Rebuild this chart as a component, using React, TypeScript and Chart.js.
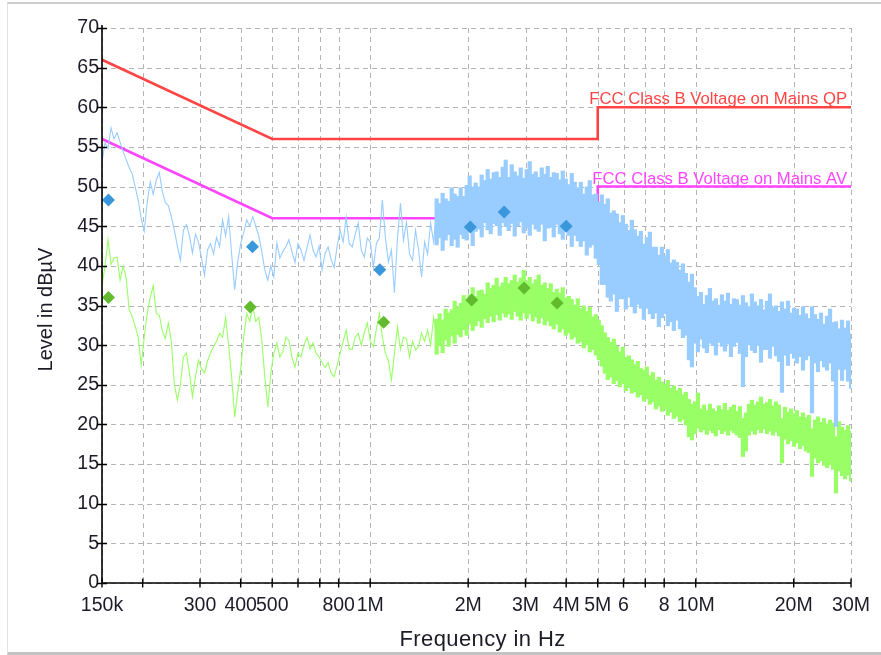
import { useEffect, useRef } from 'react';
import { Chart, registerables } from 'chart.js';

Chart.register(...registerables);

// ---- Sweep definitions (frequencies in MHz) ----
const SWEEP_LOW = { start: 0.15, stop: 1.6, points: 112 };
const SWEEP_HIGH = { start: 1.6, stop: 30, points: 139 };

// Peak detector trace, 150 kHz – 1.6 MHz (dBµV)
const peakLow = [
  53.1, 55.5, 54.8, 57.4, 56.0, 56.8, 55.6, 54.4, 53.4, 52.4,
  51.6, 50.0, 48.3, 46.0, 44.4, 48.0, 50.6, 49.0, 50.8, 51.8,
  49.4, 48.0, 47.6, 46.2, 44.5, 42.5, 40.7, 44.5, 45.2, 43.8,
  41.6, 44.0, 43.0, 41.0, 38.8, 42.0, 42.8, 41.5, 43.6, 42.4,
  45.8, 43.8, 46.2, 41.5, 37.0, 40.5, 42.8, 44.2, 45.8, 45.0,
  46.2, 45.0, 43.8, 41.8, 39.5, 38.2, 40.0, 38.6, 42.9, 41.0,
  41.8, 42.4, 43.3, 41.8, 40.4, 42.8, 42.0, 40.7, 42.3, 43.9,
  42.0, 41.1, 42.5, 39.5, 41.6, 42.4, 40.8, 39.8, 42.5, 44.5,
  43.0, 46.2, 42.8, 42.4, 44.0, 45.4, 42.0, 41.1, 43.5, 43.0,
  39.8, 42.8, 43.5, 48.3, 43.5, 40.5, 42.0, 36.6, 43.5, 47.9,
  43.2, 45.5, 41.5, 40.7, 44.5, 42.0, 38.6, 43.0, 41.5, 45.4,
  43.0, 47.0,
];

// Average detector trace, 150 kHz – 1.6 MHz (dBµV)
const avgLow = [
  37.5, 40.0, 43.3, 40.2, 41.0, 41.1, 38.2, 40.0, 38.5, 34.5,
  33.6, 32.4, 31.0, 27.5, 31.0, 34.0, 36.0, 37.5, 34.0, 33.8,
  31.8, 30.8, 32.8, 30.5, 25.0, 23.1, 25.0, 28.5, 29.0, 26.5,
  23.5, 26.0, 28.1, 27.0, 26.5, 28.0, 29.0, 29.8, 30.5, 31.5,
  31.0, 33.5, 30.0, 26.0, 20.9, 24.0, 27.0, 31.0, 34.0, 33.0,
  34.8, 33.0, 33.5, 30.6, 26.0, 22.2, 26.5, 29.0, 30.3, 28.5,
  29.2, 31.0, 30.6, 28.5, 27.2, 29.0, 28.5, 30.0, 31.0, 29.5,
  30.3, 29.0, 28.5, 27.8, 27.2, 27.8, 26.5, 26.0, 27.5, 29.0,
  30.5, 31.9, 29.5, 29.5, 31.0, 31.5, 30.0, 31.5, 32.8, 30.5,
  29.8, 32.0, 34.0, 31.0, 29.0, 28.0, 25.6, 29.0, 32.3, 29.5,
  31.0, 30.8, 28.5, 30.5, 29.4, 29.8, 31.5, 30.5, 31.9, 30.0,
  33.5, 31.0,
];

// Peak detector, 1.6 – 30 MHz: highest and lowest reading in each frequency bin
const peakHighMax = [
  48.5, 47.9, 49.2, 48.5, 48.2, 49.9, 49.1, 48.8, 49.9, 48.8,
  50.2, 51.4, 50.0, 50.5, 50.0, 51.5, 50.8, 52.2, 51.0, 51.8,
  51.9, 51.2, 52.5, 53.4, 51.2, 52.8, 51.9, 51.4, 52.4, 51.1,
  52.2, 53.2, 51.6, 51.9, 51.2, 52.4, 51.6, 52.6, 51.2, 51.8,
  51.7, 50.9, 52.0, 51.0, 50.3, 51.7, 50.6, 49.9, 50.6, 49.1,
  50.0, 50.8, 49.0, 49.1, 48.1, 49.0, 47.8, 48.5, 46.7, 47.0,
  46.6, 45.5, 46.4, 45.3, 44.5, 45.8, 44.6, 43.8, 44.4, 42.8,
  43.6, 44.3, 42.4, 42.4, 41.4, 42.4, 41.3, 42.1, 40.4, 40.8,
  40.5, 39.5, 40.3, 39.1, 38.0, 39.0, 37.3, 36.2, 36.7, 35.2,
  36.3, 37.2, 35.6, 35.9, 35.1, 36.4, 35.6, 36.6, 35.2, 35.9,
  35.8, 35.1, 36.3, 35.4, 34.9, 36.5, 35.5, 35.0, 35.8, 34.5,
  35.6, 36.5, 34.8, 35.0, 34.3, 35.5, 34.6, 35.6, 34.1, 34.7,
  34.6, 33.8, 34.9, 34.0, 33.4, 34.9, 33.9, 33.3, 34.1, 32.7,
  33.7, 34.6, 32.9, 33.0, 32.1, 33.2, 32.2, 33.1, 31.5,
];
const peakHighMin = [
  42.6, 43.5, 41.9, 43.2, 43.9, 42.5, 43.3, 42.3, 43.9, 43.4,
  43.2, 44.4, 42.5, 44.3, 44.6, 43.6, 45.4, 44.5, 44.0, 45.3,
  45.0, 43.8, 45.4, 44.9, 44.4, 45.3, 43.7, 45.0, 45.5, 44.1,
  44.8, 43.8, 45.2, 44.6, 44.3, 45.2, 43.1, 44.7, 44.8, 43.6,
  45.2, 44.0, 43.3, 44.5, 43.8, 42.4, 43.8, 43.1, 42.4, 43.1,
  41.3, 42.3, 42.6, 40.9, 40.1, 37.6, 37.6, 36.0, 35.5, 36.4,
  34.2, 35.8, 35.8, 34.5, 36.0, 34.8, 34.0, 35.1, 34.6, 33.2,
  34.6, 33.9, 33.3, 34.0, 32.3, 33.4, 33.9, 32.4, 32.9, 31.8,
  33.1, 32.0, 30.9, 31.2, 28.1, 27.2, 30.2, 29.1, 30.7, 29.6,
  29.0, 30.2, 29.9, 28.7, 30.3, 29.8, 29.2, 30.1, 28.5, 29.8,
  30.3, 28.9, 24.7, 28.5, 30.0, 29.3, 29.0, 29.9, 27.8, 29.4,
  29.4, 28.3, 29.8, 28.6, 27.9, 24.0, 28.7, 27.4, 28.9, 28.3,
  27.7, 28.5, 26.8, 28.1, 28.6, 21.4, 27.7, 26.6, 28.0, 27.2,
  26.8, 27.7, 25.4, 19.7, 26.9, 25.5, 26.9, 25.4, 24.5,
];

// Average detector, 1.6 – 30 MHz: highest and lowest reading in each frequency bin
const avgHighMax = [
  33.3, 34.0, 33.2, 34.6, 34.1, 34.5, 35.6, 34.8, 35.3, 36.3,
  35.6, 36.4, 37.3, 36.2, 36.9, 37.0, 36.5, 37.9, 37.2, 37.6,
  38.5, 37.4, 37.9, 38.6, 37.8, 38.2, 38.9, 38.0, 38.5, 39.5,
  38.1, 38.6, 37.8, 38.3, 38.9, 37.6, 37.9, 37.2, 37.8, 36.7,
  37.1, 36.6, 37.3, 36.0, 36.2, 35.8, 35.1, 35.9, 34.7, 35.0,
  34.3, 34.8, 33.6, 33.9, 33.2, 32.5, 31.6, 31.0, 30.4, 30.8,
  29.9, 29.2, 29.8, 28.5, 28.7, 28.2, 27.6, 28.0, 27.1, 26.9,
  27.3, 26.2, 26.6, 25.6, 26.0, 25.4, 25.1, 25.6, 24.6, 24.9,
  24.3, 24.6, 23.8, 24.1, 23.2, 22.6, 22.9, 24.0, 22.0, 22.5,
  21.8, 22.6, 22.0, 21.7, 22.4, 21.9, 22.7, 21.8, 22.2, 22.5,
  21.7, 22.3, 20.8, 21.5, 22.6, 23.1, 22.5, 22.9, 23.5, 22.6,
  22.8, 23.2, 22.4, 22.9, 22.5, 20.8, 22.2, 21.6, 22.0, 21.4,
  21.8, 21.0, 21.5, 20.9, 21.2, 19.5, 20.6, 21.0, 20.3, 20.8,
  20.1, 20.6, 20.2, 18.5, 20.4, 19.7, 19.3, 19.9, 19.2,
];
const avgHighMin = [
  28.8, 29.9, 29.0, 30.6, 29.8, 31.1, 30.2, 31.3, 31.0, 31.9,
  31.2, 32.6, 31.8, 32.4, 33.0, 32.2, 33.3, 32.8, 33.6, 32.9,
  33.8, 33.1, 34.0, 33.5, 33.9, 33.2, 34.2, 33.6, 33.1, 34.0,
  33.3, 33.9, 33.0, 33.5, 32.7, 33.4, 32.5, 33.0, 32.4, 32.0,
  32.6, 31.6, 32.0, 31.2, 31.5, 30.7, 31.0, 30.2, 30.4, 29.6,
  30.0, 29.1, 29.4, 28.7, 28.1, 27.3, 26.4, 25.6, 25.9, 25.1,
  25.5, 24.7, 25.1, 24.2, 24.6, 23.9, 24.1, 23.4, 23.7, 22.9,
  23.2, 22.5, 22.8, 21.9, 22.3, 21.6, 21.9, 21.1, 21.5, 20.7,
  21.0, 20.3, 20.6, 19.9, 18.4, 18.0, 18.8, 19.5, 19.0, 19.3,
  18.7, 19.2, 18.9, 18.5, 19.3, 18.8, 19.1, 18.6, 19.2, 18.9,
  18.6, 18.3, 15.9, 16.6, 18.6, 19.1, 18.7, 19.3, 18.9, 19.4,
  18.8, 19.1, 18.6, 19.0, 18.5, 15.1, 18.1, 17.5, 17.9, 17.2,
  17.6, 16.9, 17.3, 16.6, 16.4, 13.4, 15.7, 15.1, 15.4, 14.8,
  14.5, 14.9, 14.3, 11.3, 14.1, 13.5, 13.1, 13.6, 12.8,
];

// FCC Class B conducted limits (MHz, dBµV)
const qpLimitFreq = [0.15, 0.5, 5, 5, 30];
const qpLimitLevel = [66, 56, 56, 60, 60];
const avLimitFreq = [0.15, 0.5, 5, 5, 30];
const avLimitLevel = [56, 46, 46, 50, 50];

// Final measurements
const qpFinalFreq = [0.157, 0.435, 1.07, 2.03, 2.58, 4.0];
const qpFinalLevel = [48.3, 42.4, 39.5, 44.9, 46.8, 45.0];
const avFinalFreq = [0.157, 0.428, 1.1, 2.05, 2.97, 3.75];
const avFinalLevel = [36.0, 34.8, 32.9, 35.7, 37.2, 35.3];

// Axis ticks
const xTickValues = [0.15, 0.2, 0.3, 0.4, 0.5, 0.6, 0.7, 0.8, 1, 2, 3, 4, 5, 6, 7, 8, 10, 20, 30];
const xTickLabels = ['150k', '', '300', '400', '500', '', '', '800', '1M', '2M', '3M', '4M', '5M', '6', '', '8', '10M', '20M', '30M'];
const yMin = 0;
const yMax = 70;
const yStep = 2.5;
const yLabelEvery = 5;

const X_TITLE = 'Frequency in Hz';
const Y_TITLE = 'Level in dBµV';
const QP_LABEL = 'FCC Class B Voltage on Mains QP';
const AV_LABEL = 'FCC Class B Voltage on Mains AV';

const FONT = '"Liberation Sans", Arial, sans-serif';
const TEXT = '#1c1c28';
const GRID = '#b4b4b4';
const PEAK_COLOR = '#99ccff';
const AVG_COLOR = '#99ff66';
const QP_COLOR = '#ff4444';
const AV_COLOR = '#ff44ff';

function sweepGrid(s: { start: number; stop: number; points: number }) {
  const a = Math.log10(s.start);
  const b = Math.log10(s.stop);
  const out: number[] = [];
  for (let i = 0; i < s.points; i++) out.push(10 ** (a + ((b - a) * i) / (s.points - 1)));
  return out;
}

const pairs = (xs: number[], ys: number[]) => xs.map((x, i) => ({ x, y: ys[i] }));

// Dashed grid drawn under the traces
const dashedGrid = {
  id: 'dashedGrid',
  beforeDatasetsDraw(chart: any) {
    const { ctx, chartArea, scales } = chart;
    const { left, right, top, bottom } = chartArea;
    ctx.save();
    ctx.strokeStyle = GRID;
    ctx.lineWidth = 1;
    ctx.setLineDash([5, 4]);
    ctx.beginPath();
    scales.y.ticks.forEach((t: any) => {
      const py = Math.round(scales.y.getPixelForValue(t.value)) + 0.5;
      ctx.moveTo(left, py);
      ctx.lineTo(right, py);
    });
    scales.x.ticks.forEach((t: any) => {
      const px = Math.round(scales.x.getPixelForValue(t.value)) + 0.5;
      ctx.moveTo(px, top);
      ctx.lineTo(px, bottom);
    });
    ctx.stroke();
    ctx.restore();
  },
};

// Axis lines, crossing tick marks, axis titles and limit captions
const emiOverlay = {
  id: 'emiOverlay',
  afterDatasetsDraw(chart: any) {
    const { ctx, chartArea, scales } = chart;
    const { left, right, top, bottom } = chartArea;
    const x = scales.x;
    const y = scales.y;
    ctx.save();
    ctx.strokeStyle = '#000';
    ctx.lineWidth = 1.6;
    ctx.beginPath();
    ctx.moveTo(left, top - 3);
    ctx.lineTo(left, bottom);
    ctx.lineTo(right, bottom);
    ctx.stroke();
    ctx.lineWidth = 1.4;
    ctx.beginPath();
    y.ticks.forEach((t: any) => {
      const py = Math.round(y.getPixelForValue(t.value)) + 0.5;
      const half = t.value % yLabelEvery === 0 ? 5 : 3.5;
      ctx.moveTo(left - half, py);
      ctx.lineTo(left + half, py);
    });
    x.ticks.forEach((t: any) => {
      const px = x.getPixelForValue(t.value);
      ctx.moveTo(px, bottom - 4.5);
      ctx.lineTo(px, bottom + 4.5);
    });
    ctx.stroke();

    // axis titles
    ctx.fillStyle = TEXT;
    ctx.textAlign = 'center';
    ctx.textBaseline = 'alphabetic';
    ctx.font = `22px ${FONT}`;
    (ctx as any).letterSpacing = '0.4px';
    ctx.fillText(X_TITLE, (left + right) / 2 + 6, chart.height - 9);
    (ctx as any).letterSpacing = '0px';
    ctx.save();
    ctx.translate(52, (top + bottom) / 2 + 4);
    ctx.rotate(-Math.PI / 2);
    ctx.font = `20px ${FONT}`;
    ctx.fillText(Y_TITLE, 0, 0);
    ctx.restore();

    // limit captions
    ctx.font = `16.7px ${FONT}`;
    ctx.textAlign = 'right';
    ctx.fillStyle = QP_COLOR;
    ctx.fillText(QP_LABEL, right - 4, y.getPixelForValue(qpLimitLevel[4]) - 3);
    ctx.fillStyle = AV_COLOR;
    ctx.fillText(AV_LABEL, right - 4, y.getPixelForValue(avLimitLevel[4]) - 3);
    ctx.restore();
  },
};

export default function App() {
  const canvasRef = useRef<HTMLCanvasElement | null>(null);

  useEffect(() => {
    const canvas = canvasRef.current;
    if (!canvas) return;
    const lowF = sweepGrid(SWEEP_LOW);
    const highF = sweepGrid(SWEEP_HIGH);

    const band = (mins: number[], maxs: number[]) =>
      highF.map((f, i) => ({ x: f, y: [mins[i], maxs[i]] }));

    const chart = new Chart(canvas, {
      type: 'line',
      data: {
        datasets: [
          {
            type: 'line',
            label: 'QP final',
            data: pairs(qpFinalFreq, qpFinalLevel),
            showLine: false,
            pointStyle: 'rectRot',
            pointRadius: 6.5,
            pointBorderWidth: 0,
            pointBackgroundColor: '#3a97dc',
            borderColor: '#3a97dc',
            order: 0,
          },
          {
            type: 'line',
            label: 'AV final',
            data: pairs(avFinalFreq, avFinalLevel),
            showLine: false,
            pointStyle: 'rectRot',
            pointRadius: 6.5,
            pointBorderWidth: 0,
            pointBackgroundColor: '#62bb2e',
            borderColor: '#62bb2e',
            order: 1,
          },
          {
            type: 'line',
            label: 'Peak',
            data: pairs(lowF, peakLow),
            borderColor: PEAK_COLOR,
            borderWidth: 1.1,
            pointRadius: 0,
            tension: 0,
            order: 2,
          },
          {
            type: 'bar',
            label: 'Peak band',
            data: band(peakHighMin, peakHighMax),
            backgroundColor: PEAK_COLOR,
            borderWidth: 0,
            grouped: false,
            barPercentage: 1.4,
            categoryPercentage: 1,
            order: 3,
          },
          {
            type: 'line',
            label: 'Average',
            data: pairs(lowF, avgLow),
            borderColor: AVG_COLOR,
            borderWidth: 1.1,
            pointRadius: 0,
            tension: 0,
            order: 4,
          },
          {
            type: 'bar',
            label: 'Average band',
            data: band(avgHighMin, avgHighMax),
            backgroundColor: AVG_COLOR,
            borderWidth: 0,
            grouped: false,
            barPercentage: 1.4,
            categoryPercentage: 1,
            order: 5,
          },
          {
            type: 'line',
            label: QP_LABEL,
            data: pairs(qpLimitFreq, qpLimitLevel),
            borderColor: QP_COLOR,
            borderWidth: 2.6,
            pointRadius: 0,
            tension: 0,
            order: 6,
          },
          {
            type: 'line',
            label: AV_LABEL,
            data: pairs(avLimitFreq, avLimitLevel),
            borderColor: AV_COLOR,
            borderWidth: 2.6,
            pointRadius: 0,
            tension: 0,
            order: 7,
          },
        ] as any,
      },
      options: {
        responsive: false,
        animation: false,
        events: [],
        layout: { padding: { top: 28, right: 26, left: 0, bottom: 0 } },
        plugins: { legend: { display: false }, tooltip: { enabled: false } },
        scales: {
          x: {
            type: 'logarithmic',
            position: 'bottom',
            min: xTickValues[0],
            max: xTickValues[xTickValues.length - 1],
            offset: false,
            afterBuildTicks: (s: any) => {
              s.ticks = xTickValues.map((value) => ({ value }));
            },
            afterFit: (s: any) => {
              s.height = 72;
            },
            grid: { display: false, drawTicks: false, offset: false },
            border: { display: false },
            ticks: {
              autoSkip: false,
              maxRotation: 0,
              minRotation: 0,
              padding: 11,
              color: TEXT,
              font: { family: FONT, size: 19.5 },
              callback: (_v: any, i: number) => xTickLabels[i],
            },
            title: { display: false },
          },
          y: {
            type: 'linear',
            min: yMin,
            max: yMax,
            afterFit: (s: any) => {
              s.width = 102;
            },
            grid: { display: false, drawTicks: false },
            border: { display: false },
            ticks: {
              stepSize: yStep,
              padding: 3,
              color: TEXT,
              font: { family: FONT, size: 19.5 },
              callback: (v: any) => (Number(v) % yLabelEvery === 0 ? String(v) : ''),
            },
            title: { display: false },
          },
        },
      } as any,
      plugins: [dashedGrid, emiOverlay],
    });
    return () => chart.destroy();
  }, []);

  return (
    <div style={{ position: 'fixed', left: 0, top: 0, width: 881, height: 655, background: '#fff' }}>
      <div
        style={{
          position: 'absolute',
          left: 7,
          top: 2,
          width: 874,
          height: 653,
          boxSizing: 'border-box',
          borderTop: '2px solid #cdcdcd',
          borderLeft: '1px solid #e2e2e2',
          borderBottom: '3px solid #c4c4c4',
        }}
      />
      <canvas
        ref={canvasRef}
        width={881}
        height={655}
        style={{ position: 'absolute', left: 0, top: 0, display: 'block' }}
      />
    </div>
  );
}
